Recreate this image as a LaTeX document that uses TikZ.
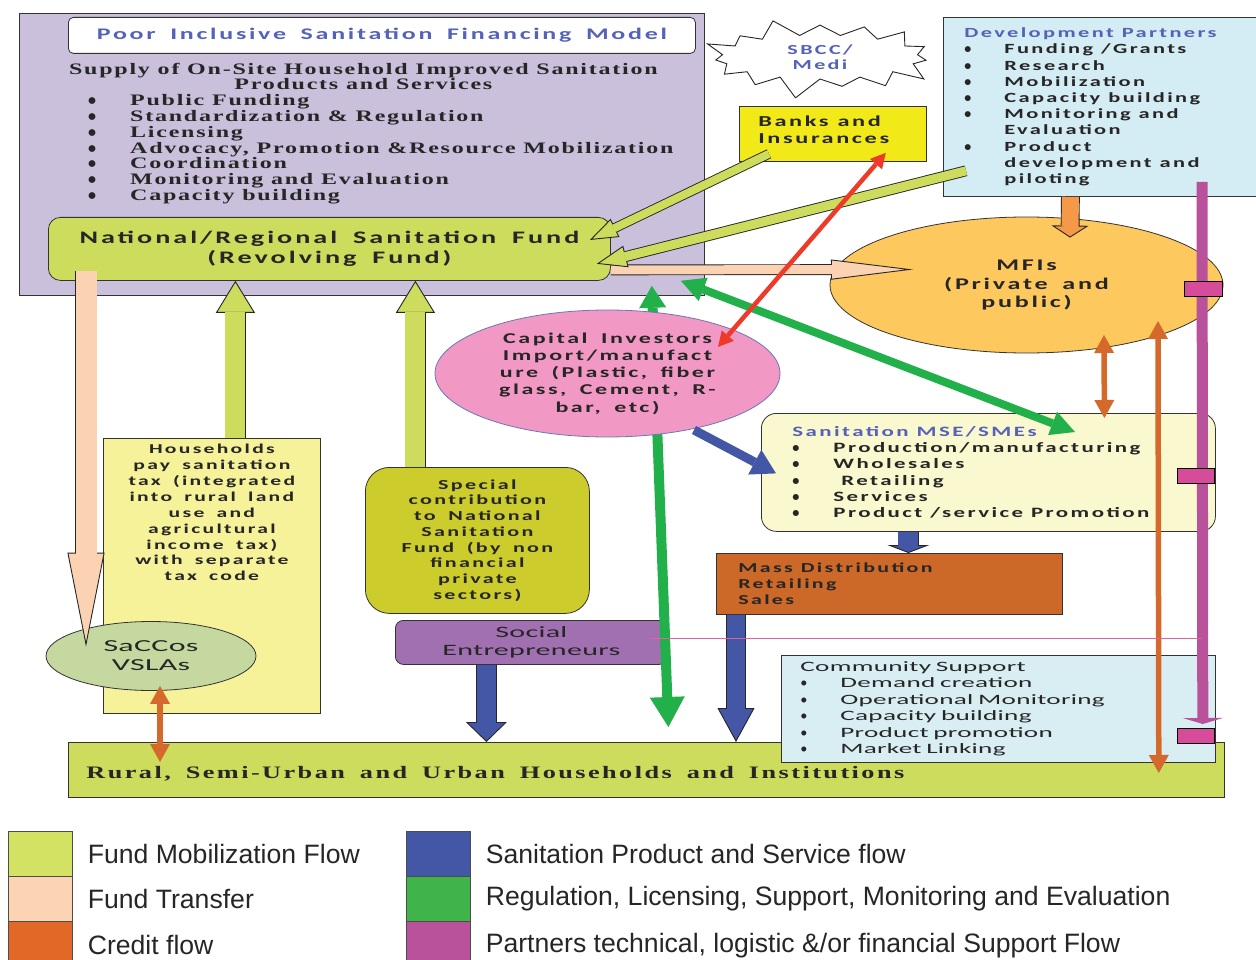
\documentclass[tikz,border=0pt]{standalone}
\usepackage{fontspec}
\setmainfont{Carlito}
\newfontfamily\calfont[FakeStretch=1.6,LetterSpace=17,WordSpace=1.7]{Carlito}
\newfontfamily\widefont[FakeStretch=1.9,LetterSpace=2]{Carlito}
\newfontfamily\seriffont[FakeStretch=1.5,LetterSpace=11]{Liberation Serif}
\newfontfamily\ruralserif[FakeStretch=1.5,LetterSpace=14]{Liberation Serif}
\newfontfamily\legendfont{Liberation Sans}
\newfontfamily\bulletfont{Carlito}
\usetikzlibrary{arrows.meta,shapes.geometric,shapes.symbols}

\definecolor{lavC}{RGB}{202,192,220}
\definecolor{limeC}{RGB}{205,220,92}
\definecolor{peachC}{RGB}{251,210,178}
\definecolor{yellowC}{RGB}{242,234,24}
\definecolor{devC}{RGB}{212,236,243}
\definecolor{mfiC}{RGB}{253,200,94}
\definecolor{pinkC}{RGB}{242,152,196}
\definecolor{mseC}{RGB}{250,248,206}
\definecolor{massC}{RGB}{204,104,40}
\definecolor{taxC}{RGB}{246,242,154}
\definecolor{specC}{RGB}{204,204,44}
\definecolor{saccC}{RGB}{196,216,160}
\definecolor{socC}{RGB}{160,112,176}
\definecolor{commC}{RGB}{216,238,243}
\definecolor{titleC}{RGB}{84,98,184}
\definecolor{creditC}{RGB}{213,105,44}
\definecolor{devorC}{RGB}{245,152,72}
\definecolor{redC}{RGB}{238,58,40}
\definecolor{regC}{RGB}{34,176,75}
\definecolor{blueC}{RGB}{68,86,166}
\definecolor{magC}{RGB}{185,82,155}
\definecolor{markC}{RGB}{214,76,154}
\definecolor{lineC}{RGB}{224,96,160}
\definecolor{lgLime}{RGB}{211,226,98}
\definecolor{lgPeach}{RGB}{252,212,180}
\definecolor{lgOrange}{RGB}{226,104,40}
\definecolor{lgGreen}{RGB}{62,180,74}

\newcommand{\bul}[1]{\makebox[#1][l]{\bulletfont\textbullet}}
\newcommand{\wordgap}[1]{\spaceskip=#1\relax}

\tikzset{
	box/.style={draw=black!80, line width=0.8pt, inner sep=0pt, anchor=north west},
	oval/.style={ellipse, draw=black!80, line width=0.8pt, inner sep=0pt},
	boldtext/.style 2 args={font=\calfont\bfseries\fontsize{#1}{#2}\selectfont, text=black!85},
	widetext/.style 2 args={font=\widefont\fontsize{#1}{#2}\selectfont, text=black!85},
	seriftext/.style 2 args={font=\seriffont\bfseries\fontsize{#1}{#2}\selectfont, text=black!85},
	blockarrow/.style n args={4}{draw=black!85, line width=#2pt+1.8pt, -{Triangle[length=#3pt, width=#4pt, fill=#1, line width=0.9pt 0 0]}, postaction={draw=#1, -, line width=#2pt, shorten >=#3pt-1.2pt}},
	regflow/.style={draw=regC, line width=10pt, {Triangle[length=22pt, width=27pt, line width=0pt 0 0]}-{Triangle[length=30pt, width=35pt, line width=0pt 0 0]}},
	productflow/.style={draw=blueC, line width=9pt, -{Triangle[length=24pt, width=28pt, line width=0pt 0 0]}},
	credit/.style={draw=creditC, line width=5.5pt, {Triangle[length=18pt, width=20pt, line width=0pt 0 0]}-{Triangle[length=18pt, width=20pt, line width=0pt 0 0]}},
	bankflow/.style={draw=redC, line width=4.5pt, {Triangle[length=15pt, width=16pt, line width=0pt 0 0]}-{Triangle[length=15pt, width=16pt, line width=0pt 0 0]}},
	support/.style={draw=magC, line width=11pt, -{Triangle[length=6pt, width=40pt, line width=0pt 0 0]}},
	marker/.style={box, fill=markC, draw=black, line width=1.2pt, minimum width=38pt, minimum height=15pt},
	swatch/.style={draw=black!70, line width=0.6pt, inner sep=0pt, anchor=north west, minimum width=64pt, minimum height=45pt},
	legtext/.style={font=\legendfont\fontsize{26.6}{28}\selectfont, text=black!85, anchor=west, inner sep=0pt}
}

\begin{document}
\begin{tikzpicture}[x=1pt,y=-1pt]
	\useasboundingbox (0,0) rectangle (1256,960);
	\fill[white] (0,0) rectangle (1256,960);

	\node[box, fill=lavC, minimum width=685pt, minimum height=282pt] (supply) at (19,13) {};
	\node[box, fill=white, rounded corners=5pt, minimum width=627pt, minimum height=36pt, boldtext={16.2}{18}, text=titleC] (title) at (68,17) {Poor Inclusive Sanitation Financing Model};
	\node[seriftext={16}{15.5}, align=center, anchor=north, inner sep=0pt] (supplyhead) at ([xshift=1.5pt,yshift=-50pt]supply.north) {Supply of On-Site Household Improved Sanitation\\Products and Services};
	\node[seriftext={16}{15.9}, align=left, anchor=north west, inner sep=0pt] (supplylist) at ([xshift=69pt,yshift=-81pt]supply.north west) {\bul{42pt}Public Funding\\ \bul{42pt}Standardization \& Regulation\\ \bul{42pt}Licensing\\ \bul{42pt}Advocacy, Promotion \&Resource Mobilization\\ \bul{42pt}Coordination\\ \bul{42pt}Monitoring and Evaluation\\ \bul{42pt}Capacity building};
	\node[box, fill=limeC, rounded corners=12pt, minimum width=562pt, minimum height=63pt, boldtext={17.6}{20}, align=center] (fund) at (48,217) {National/Regional Sanitation Fund\\(Revolving Fund)};

	\node[starburst, starburst points=15, starburst point height=22pt, random starburst=9, draw=black!85, line width=0.9pt, fill=white, minimum width=240pt, minimum height=88pt, inner sep=0pt, boldtext={13.8}{15}, text=titleC, align=center] (sbcc) at (820,57) {SBCC/\\Medi};
	\node[box, fill=yellowC, minimum width=187pt, minimum height=55pt, inner xsep=19pt, text width=149pt, align=left, boldtext={15.2}{17}] (banks) at (739,106) {\wordgap{9pt}Banks and\\Insurances\\[-8pt]\mbox{}};
	\node[box, fill=devC, minimum width=320pt, minimum height=179pt, inner xsep=21pt, text width=278pt, align=left, boldtext={14}{16.2}] (devp) at (943,17) {\wordgap{8pt}\textcolor{titleC}{Development Partners}\\ \bul{40pt}Funding /Grants\\ \bul{40pt}Research\\ \bul{40pt}Mobilization\\ \bul{40pt}Capacity building\\ \bul{40pt}Monitoring and\\ \hspace*{40pt}Evaluation\\ \bul{40pt}Product\\ \hspace*{40pt}development and\\ \hspace*{40pt}piloting};
	\node[oval, fill=mfiC, minimum width=393pt, minimum height=136pt, boldtext={16.3}{18.5}, align=center] (mfi) at (1026.5,285) {MFIs\\(Private and\\public)};

	\node[box, fill=mseC, rounded corners=15pt, minimum width=454pt, minimum height=118pt, inner xsep=31pt, text width=392pt, align=left, boldtext={14.3}{16.3}] (mse) at (761,413) {\wordgap{8pt}\textcolor{titleC}{Sanitation MSE/SMEs}\\ \bul{41pt}Production/manufacturing\\ \bul{41pt}Wholesales\\ \bul{41pt} Retailing\\ \bul{41pt}Services\\ \bul{41pt}Product /service Promotion};
	\node[box, fill=massC, minimum width=346pt, minimum height=61pt, inner xsep=22pt, text width=302pt, align=left, boldtext={13.7}{16}] (mass) at (716,553) {\wordgap{8pt}Mass Distribution\\Retailing\\Sales};
	\node[box, fill=taxC, minimum width=217pt, minimum height=275pt] (taxbox) at (103,438) {};
	\node[boldtext={13.5}{15.9}, align=center, anchor=north, inner sep=0pt] (taxtext) at ([yshift=-6pt]taxbox.north) {Households\\pay sanitation\\tax (integrated\\into rural land\\use and\\agricultural\\income tax)\\with separate\\tax code};
	\node[box, fill=specC, rounded corners=24pt, minimum width=224pt, minimum height=146pt, boldtext={13.8}{15.7}, align=center] (special) at (365,467) {Special\\contribution\\to National\\Sanitation\\Fund (by non\\financial\\private\\sectors)};
	\node[oval, fill=saccC, minimum width=210pt, minimum height=69pt, widetext={16.8}{19}, align=center] (saccos) at (151,656) {SaCCos\\VSLAs};
	\node[box, fill=socC, rounded corners=8pt, minimum width=272pt, minimum height=44pt, widetext={15.8}{18}, align=center] (social) at (395,620) {Social\\Entrepreneurs};
	\node[box, fill=limeC, minimum width=1156pt, minimum height=55pt, inner xsep=18pt, text width=1120pt, align=left, font=\ruralserif\bfseries\fontsize{17.5}{18}\selectfont, text=black!85] (rural) at (68,742) {\wordgap{15pt}\raisebox{-9pt}[0pt][0pt]{Rural, Semi-Urban and Urban Households and Institutions}};
	\node[box, fill=commC, minimum width=434pt, minimum height=107pt, inner xsep=19pt, text width=396pt, align=left, widetext={14.3}{16.5}] (community) at (781,655) {Community Support\\ \bul{40pt}Demand creation\\ \bul{40pt}Operational Monitoring\\ \bul{40pt}Capacity building\\ \bul{40pt}Product promotion\\ \bul{40pt}Market Linking};

	\draw[regflow] ([xshift=-53pt,yshift=10pt]supply.south east) -- ([xshift=22pt,yshift=15pt]rural.north);
	\node[oval, draw=blueC!80, fill=pinkC, minimum width=345pt, minimum height=127pt, boldtext={15}{17.2}, align=center] (capital) at (607.5,373.5) {Capital Investors\\Import/manufact\\ure (Plastic, fiber\\glass, Cement, R-\\bar, etc)};

	\coordinate (trdown) at ([xshift=38pt,yshift=10pt]fund.south west);
	\coordinate (trright) at ([yshift=-21pt]fund.east);
	\draw[blockarrow={peachC}{21}{94}{37}] (trdown) -- ([xshift=-65pt,yshift=-25.5pt]saccos.north);
	\draw[blockarrow={peachC}{9}{82}{20}] (trright) -- ([xshift=-113.5pt,yshift=15.5pt]mfi.center);

	\coordinate (taxup) at ([xshift=23.5pt]taxbox.north);
	\coordinate (specup) at ([xshift=-62pt]special.north);
	\draw[blockarrow={limeC}{20}{32}{39}] (taxup) -- (taxup |- fund.south);
	\draw[blockarrow={limeC}{20}{32}{39}] (specup) -- (specup |- fund.south);
	\draw[blockarrow={limeC}{8}{28}{20}] ([xshift=30pt,yshift=8pt]banks.south west) -- ([xshift=-21pt,yshift=-23pt]fund.north east);
	\draw[blockarrow={limeC}{9}{30}{22}] ([xshift=23pt,yshift=26pt]devp.south west) -- ([xshift=-14pt,yshift=17pt]fund.south east);

	\draw[regflow, line width=8pt, {Triangle[length=24pt, width=25pt, line width=0pt 0 0]}-{Triangle[length=24pt, width=25pt, line width=0pt 0 0]}] ([xshift=-24pt,yshift=15pt]supply.south east) -- ([xshift=314pt,yshift=-19pt]mse.north west);

	\coordinate (msedown) at ([xshift=-80pt]mse.south);
	\coordinate (massdown) at ([xshift=20pt]mass.south west);
	\coordinate (socdown) at ([xshift=-45pt]social.south);
	\draw[productflow] ([xshift=86.5pt,yshift=-56.5pt]capital.center) -- ([xshift=15pt,yshift=-1pt]mse.west);
	\draw[blockarrow={blueC}{20}{8}{42}] (msedown) -- (msedown |- mass.north);
	\draw[blockarrow={blueC}{18}{34}{37}] (massdown) -- (massdown |- rural.north);
	\draw[blockarrow={blueC}{19}{20}{41}] (socdown) -- (socdown |- rural.north);

	\coordinate (devdown) at ([xshift=-33pt]devp.south);
	\draw[blockarrow={devorC}{17}{12}{37}] (devdown) -- ([xshift=43.5pt,yshift=-21pt]mfi.north);
	\draw[credit] ([xshift=9pt,yshift=5pt]saccos.south) -- ([xshift=92pt,yshift=-20pt]rural.north west);
	\draw[credit] ([xshift=77.5pt,yshift=-50pt]mfi.center) -- ([xshift=116pt,yshift=-5pt]mse.north);
	\draw[credit] ([xshift=131.5pt,yshift=-36pt]mfi.center) -- ([xshift=-66pt,yshift=-31pt]rural.north east);

	\coordinate (magtop) at ([xshift=259pt,yshift=15pt]devp.south west);
	\coordinate (socline) at ([xshift=-18pt,yshift=4pt]social.east);
	\draw[support] (magtop) -- ([xshift=-22pt,yshift=18pt]rural.north east);
	\draw[draw=lineC, line width=1.6pt] (socline) -- (socline -| magtop);
	\node[marker] (mk1) at (1184,281) {};
	\node[marker, minimum width=37pt] (mk2) at (1177,468) {};
	\node[marker, minimum width=37pt] (mk3) at (1177,728) {};

	\draw[bankflow] ([xshift=-41pt,yshift=9pt]banks.south east) -- ([xshift=110.5pt,yshift=26.5pt]capital.center);

	\node[swatch, fill=lgLime] (lgfund) at (8,831) {};
	\node[swatch, fill=lgPeach] (lgtransfer) at (8,876) {};
	\node[swatch, fill=lgOrange, minimum height=50pt] (lgcredit) at (8,921) {};
	\node[swatch, fill=blueC] (lgproduct) at (406,831) {};
	\node[swatch, fill=lgGreen] (lgregulation) at (406,876) {};
	\node[swatch, fill=magC, minimum height=50pt] (lgsupport) at (406,921) {};
	\node[legtext] at ([xshift=15pt]lgfund.east) {Fund Mobilization Flow};
	\node[legtext] at ([xshift=15pt]lgtransfer.east) {Fund Transfer};
	\node[legtext] at ([xshift=15pt,yshift=1pt]lgcredit.east) {Credit flow};
	\node[legtext] at ([xshift=15pt]lgproduct.east) {Sanitation Product and Service flow};
	\node[legtext] at ([xshift=15pt]lgregulation.east) {Regulation, Licensing, Support, Monitoring and Evaluation};
	\node[legtext] at ([xshift=15pt,yshift=1pt]lgsupport.east) {Partners technical, logistic \&/or financial Support Flow};
\end{tikzpicture}
\end{document}
